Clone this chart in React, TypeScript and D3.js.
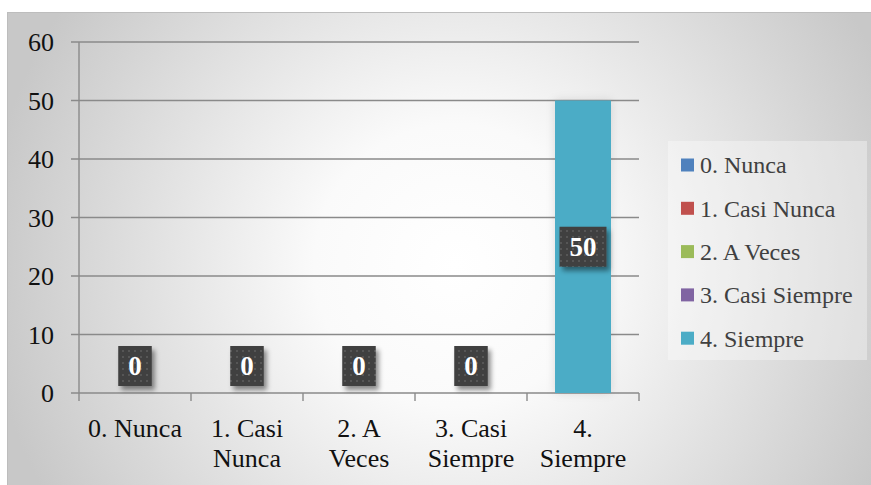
import React, { useEffect, useRef } from "react";
import * as d3 from "d3";

// Survey responses per answer option
const categories = ["0. Nunca", "1. Casi Nunca", "2. A Veces", "3. Casi Siempre", "4. Siempre"];
const values = [0, 0, 0, 0, 50];
const seriesColors = ["#4F81BD", "#C0504D", "#9BBB59", "#8064A2", "#4BACC6"];
const yTicks = [0, 10, 20, 30, 40, 50, 60];

const W = 871;
const H = 485;
const FONT = "'Liberation Serif', 'Times New Roman', serif";

export default function App() {
  const ref = useRef<SVGSVGElement | null>(null);

  useEffect(() => {
    const svg = d3.select(ref.current);
    svg.selectAll("*").remove();

    const defs = svg.append("defs");

    const grad = defs
      .append("radialGradient")
      .attr("id", "bg")
      .attr("gradientUnits", "userSpaceOnUse")
      .attr("cx", 455)
      .attr("cy", 265)
      .attr("r", 470);
    grad.append("stop").attr("offset", 0).attr("stop-color", "#ffffff");
    grad.append("stop").attr("offset", 0.3).attr("stop-color", "#fafafa");
    grad.append("stop").attr("offset", 1).attr("stop-color", "#c8c8c8");

    const pat = defs
      .append("pattern")
      .attr("id", "dots")
      .attr("patternUnits", "userSpaceOnUse")
      .attr("width", 6)
      .attr("height", 6);
    pat.append("rect").attr("width", 6).attr("height", 6).attr("fill", "#3f3f3f");
    pat.append("rect").attr("x", 2).attr("y", 2).attr("width", 2).attr("height", 2).attr("fill", "#575757");

    const shadow = defs
      .append("filter")
      .attr("id", "shadow")
      .attr("x", "-50%")
      .attr("y", "-50%")
      .attr("width", "200%")
      .attr("height", "200%");
    shadow
      .append("feDropShadow")
      .attr("dx", 3)
      .attr("dy", 4)
      .attr("stdDeviation", 2.5)
      .attr("flood-color", "#000")
      .attr("flood-opacity", 0.45);

    const glow = defs
      .append("filter")
      .attr("id", "glow")
      .attr("x", "-50%")
      .attr("y", "-10%")
      .attr("width", "200%")
      .attr("height", "120%");
    glow
      .append("feDropShadow")
      .attr("dx", 0)
      .attr("dy", 0)
      .attr("stdDeviation", 5)
      .attr("flood-color", "#000")
      .attr("flood-opacity", 0.12);

    // chart area
    svg
      .append("rect")
      .attr("x", 7.5)
      .attr("y", 12.5)
      .attr("width", W)
      .attr("height", H)
      .attr("fill", "url(#bg)")
      .attr("stroke", "#bdbdbd")
      .attr("stroke-width", 1);

    const x = d3
      .scaleBand<string>()
      .domain(categories)
      .range([79, 639])
      .paddingInner(0.5)
      .paddingOuter(0.25);
    const y = d3.scaleLinear().domain([0, 60]).range([393, 42]);

    const axisColor = "#8a8a8a";

    // horizontal gridlines with outward ticks
    svg
      .append("g")
      .selectAll("line")
      .data(yTicks)
      .join("line")
      .attr("x1", 71)
      .attr("x2", 639)
      .attr("y1", (d) => y(d))
      .attr("y2", (d) => y(d))
      .attr("stroke", axisColor)
      .attr("stroke-width", 1.6);

    // y axis line
    svg
      .append("line")
      .attr("x1", 79)
      .attr("x2", 79)
      .attr("y1", y(60))
      .attr("y2", y(0) + 8)
      .attr("stroke", axisColor)
      .attr("stroke-width", 1.4);

    // category boundary ticks
    const step = x.step();
    const boundaries = categories.map((c) => (x(c) as number) - (step - x.bandwidth()) / 2);
    boundaries.push(boundaries[boundaries.length - 1] + step);
    svg
      .append("g")
      .selectAll("line")
      .data(boundaries.slice(1))
      .join("line")
      .attr("x1", (d) => d)
      .attr("x2", (d) => d)
      .attr("y1", y(0))
      .attr("y2", y(0) + 8)
      .attr("stroke", axisColor)
      .attr("stroke-width", 1.4);

    // y tick labels
    svg
      .append("g")
      .selectAll("text")
      .data(yTicks)
      .join("text")
      .attr("x", 54)
      .attr("y", (d) => y(d))
      .attr("dy", "0.35em")
      .attr("text-anchor", "end")
      .attr("font-family", FONT)
      .attr("font-size", 26)
      .attr("fill", "#111")
      .text((d) => String(d));

    // category labels, wrapped to the band width
    const maxLine = 100;
    const catG = svg.append("g");
    categories.forEach((c) => {
      const cx = (x(c) as number) + x.bandwidth() / 2;
      const t = catG
        .append("text")
        .attr("x", cx)
        .attr("y", 437)
        .attr("text-anchor", "middle")
        .attr("font-family", FONT)
        .attr("font-size", 26)
        .attr("fill", "#111");
      const words = c.split(" ");
      let line: string[] = [];
      let tspan = t.append("tspan").attr("x", cx).attr("dy", 0);
      for (const w of words) {
        line.push(w);
        tspan.text(line.join(" "));
        const node = tspan.node() as SVGTextContentElement;
        if (node.getComputedTextLength() > maxLine && line.length > 1) {
          line.pop();
          tspan.text(line.join(" "));
          line = [w];
          tspan = t.append("tspan").attr("x", cx).attr("dy", 30).text(w);
        }
      }
    });

    // bars
    svg
      .append("g")
      .selectAll("rect")
      .data(values)
      .join("rect")
      .attr("x", (_, i) => x(categories[i]) as number)
      .attr("y", (d) => y(d))
      .attr("width", x.bandwidth())
      .attr("height", (d) => y(0) - y(d))
      .attr("fill", (_, i) => seriesColors[i])
      .attr("filter", (d) => (d > 0 ? "url(#glow)" : null));

    // value labels
    const lblG = svg.append("g");
    values.forEach((v, i) => {
      const cx = (x(categories[i]) as number) + x.bandwidth() / 2;
      const cy = v > 0 ? y(v / 2) : y(0) - 27;
      const g = lblG.append("g");
      const r = g.append("rect").attr("fill", "url(#dots)").attr("filter", "url(#shadow)");
      const t = g
        .append("text")
        .attr("x", cx)
        .attr("y", cy)
        .attr("dy", "0.35em")
        .attr("text-anchor", "middle")
        .attr("font-family", FONT)
        .attr("font-weight", "bold")
        .attr("font-size", 27)
        .attr("fill", "#fff")
        .text(String(v));
      const tw = (t.node() as SVGTextContentElement).getComputedTextLength();
      const bw = tw + 20;
      r.attr("x", cx - bw / 2).attr("y", cy - 20).attr("width", bw).attr("height", 40);
    });

    // legend
    const leg = svg.append("g");
    leg
      .append("rect")
      .attr("x", 668)
      .attr("y", 141)
      .attr("width", 199)
      .attr("height", 219)
      .attr("fill", "#ffffff")
      .attr("opacity", 0.35);
    categories.forEach((c, i) => {
      const cy = 165 + i * 43.3;
      leg
        .append("rect")
        .attr("x", 681)
        .attr("y", cy - 6.5)
        .attr("width", 13)
        .attr("height", 13)
        .attr("fill", seriesColors[i]);
      leg
        .append("text")
        .attr("x", 700)
        .attr("y", cy)
        .attr("dy", "0.35em")
        .attr("font-family", FONT)
        .attr("font-size", 24)
        .attr("fill", "#404040")
        .text(c);
    });
  }, []);

  return (
    <svg
      ref={ref}
      width={W}
      height={H}
      style={{ position: "absolute", left: 0, top: 0, display: "block" }}
    />
  );
}
